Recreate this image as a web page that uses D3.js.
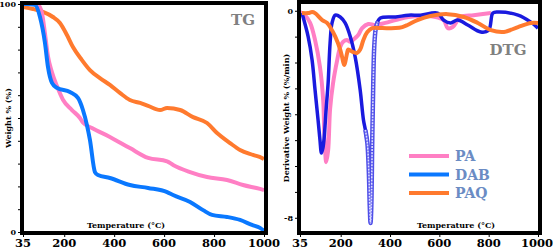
<!DOCTYPE html>
<html>
<head>
<meta charset="utf-8">
<script src="https://cdn.jsdelivr.net/npm/d3@7"></script>
<style>
  body { margin: 0; background: #fff; }
  text { font-family: "DejaVu Serif", serif; font-weight: bold; }
</style>
</head>
<body>
<div id="chart"></div>
<script>
// Chart size
const width = 553;
const height = 250;

// TG data: [temperature, weight %]
const tgPA = [[35,100],[75,100],[95,99.6],[111,96],[123,87],[135,77],[151,70],[171,64],[195,58],[231,53.5],[263,50],[275,48],[311,45.6],[383,41.7],[463,36.8],[536,32.5],[612,31],[636,29.4],[704,26.3],[772,24.1],[852,22.8],[916,20.6],[984,18.9],[1000,18.4]];
const tgDAB = [[35,100],[51,100],[83,99.6],[103,94.3],[123,82.9],[135,72.4],[151,65.4],[171,63.2],[223,61.4],[255,58.8],[275,53.5],[291,46.9],[303,40.4],[323,26.3],[335,25],[383,23.7],[463,20.6],[536,19.3],[612,17.5],[636,16.2],[704,13.2],[756,9.6],[792,7.5],[852,6.6],[904,5.3],[952,3.1],[984,1.8],[1000,0.5]];
const tgPAQ = [[35,98.7],[75,97.8],[115,96.5],[155,94.3],[183,91.7],[211,86.4],[235,81.1],[271,75.4],[303,71],[343,67.5],[383,64.5],[423,61],[463,57.9],[504,56.6],[536,55.3],[584,53.5],[612,54.4],[664,53.5],[716,50.4],[772,47.8],[812,43.4],[864,39],[904,36],[956,33.8],[992,32.5],[1000,32]];

// DTG data: [temperature, derivative weight %/min]
const dtgPA = [[35,-0.05],[55,-0.17],[76,-0.47],[96,-1.13],[116,-2.17],[129,-3.45],[133,-4.6],[137,-5.4],[141,-5.85],[149,-5.4],[157,-3.8],[169,-2.8],[186,-1.9],[198,-1.4],[210,-1.2],[226,-1.13],[239,-1.2],[259,-1.05],[271,-0.94],[287,-0.67],[312,-0.51],[340,-0.55],[381,-0.47],[422,-0.36],[475,-0.24],[560,-0.2],[617,-0.36],[634,-0.67],[654,-0.63],[686,-0.24],[739,-0.17],[809,-0.09]];
const dtgDAB = [[43,-0.09],[68,-1.0],[84,-1.9],[96,-3.06],[108,-4.2],[116,-5.0],[122,-5.5],[128,-5.3],[133,-4.9],[141,-3.8],[149,-2.8],[157,-1.25],[165,-0.47],[178,-0.17],[198,-0.24],[218,-0.47],[239,-1.0],[259,-1.8],[279,-3.06],[292,-4.2],[300,-4.6],[308,-5.1],[314,-6.2],[318,-7.6],[321,-8.2],[324,-7.6],[328,-5.0],[332,-2.8],[336,-1.4],[342,-0.7],[350,-0.42],[361,-0.28],[422,-0.24],[475,-0.17],[524,-0.17],[593,-0.09],[617,-0.36],[646,-0.47],[674,-0.36],[715,-0.55],[768,-0.82],[800,-0.75],[817,-0.09],[837,-0.05],[919,-0.17],[971,-0.44],[1000,-0.67]];
const dtgPAQ = [[43,-0.09],[68,-0.09],[84,-0.05],[96,-0.09],[125,-0.36],[145,-0.47],[157,-0.63],[178,-1.0],[198,-1.5],[206,-1.8],[214,-2.1],[226,-1.63],[230,-1.5],[251,-1.6],[267,-1.63],[279,-1.5],[292,-1.13],[308,-0.82],[328,-0.67],[369,-0.67],[422,-0.67],[450,-0.63],[471,-0.55],[511,-0.36],[564,-0.2],[634,-0.13],[699,-0.24],[756,-0.47],[809,-0.75],[862,-0.82],[919,-0.63],[971,-0.47],[1000,-0.47]];

// Axis ticks
const xTicks = [35, 200, 400, 600, 800, 1000];
const tgTicks = d3.range(0, 101, 10);
const tgLabels = [0, 100];
const dtgTicks = d3.range(-8, 1, 1);
const dtgLabels = [-8, 0];

// Legend
const seriesNames = ["PA", "DAB", "PAQ"];
const seriesColors = ["#ff7fc4", "#0a78ff", "#ff7a2e"];
const dtgBlue = "#1a1adf";

const svg = d3.select("#chart")
    .append("svg")
    .attr("width", width)
    .attr("height", height);

// Scales
const xTG = d3.scaleLinear().domain([35, 1000]).range([23, 264]);
const yTG = d3.scaleLinear().domain([0, 100]).range([232, 4]);
const xDTG = d3.scaleLinear().domain([35, 1000]).range([300, 538]);
const yDTG = d3.scaleLinear().domain([-8.55, 0.3]).range([232, 3]);

function drawPanel(x, y, yTicks, yLabels) {
    const [x0, x1] = x.range();
    const [y1, y0] = y.range();
    const clipId = "clip" + Math.round(x0);
    svg.append("clipPath").attr("id", clipId)
        .append("rect")
        .attr("x", x0).attr("y", y0 - 1)
        .attr("width", x1 - x0 + 1).attr("height", y1 - y0 + 2);

    // y ticks
    svg.append("g")
        .attr("transform", `translate(${x0 - 2},0)`)
        .call(d3.axisLeft(y).tickValues(yTicks).tickSize(3).tickFormat(""))
        .call(g => g.select(".domain").remove());
    svg.selectAll(null)
        .data(yLabels)
        .join("text")
        .attr("x", x0 - 7)
        .attr("y", d => y(d) + 3)
        .attr("text-anchor", "end")
        .style("font-size", "8px")
        .text(d => d);

    // x ticks
    svg.append("g")
        .attr("transform", `translate(0,${y1 + 2})`)
        .call(d3.axisBottom(x).tickValues(xTicks).tickSize(3).tickFormat(""))
        .call(g => g.select(".domain").remove());
    svg.selectAll(null)
        .data(xTicks)
        .join("text")
        .attr("x", d => Math.min(x(d), width - 16))
        .attr("y", 247)
        .attr("text-anchor", "middle")
        .style("font-size", "11.5px")
        .text(d => d);

    return `url(#${clipId})`;
}

function drawFrame(x, y) {
    const [x0, x1] = x.range();
    const [y1, y0] = y.range();
    svg.append("rect")
        .attr("x", x0 - 1)
        .attr("y", y0 - 1)
        .attr("width", x1 - x0 + 3)
        .attr("height", y1 - y0 + 2)
        .attr("fill", "none")
        .attr("stroke", "black")
        .attr("stroke-width", 4);
}

// Line generators
const lineTG = d3.line().x(d => xTG(d[0])).y(d => yTG(d[1])).curve(d3.curveMonotoneX);
const lineDTG = d3.line().x(d => xDTG(d[0])).y(d => yDTG(d[1])).curve(d3.curveCatmullRom.alpha(0.5));

// ---- TG panel ----
const clipTG = drawPanel(xTG, yTG, tgTicks, tgLabels);
[tgPAQ, tgPA, tgDAB].forEach((s, i) => {
    const c = [seriesColors[2], seriesColors[0], seriesColors[1]][i];
    svg.append("path")
        .datum(s)
        .attr("d", lineTG)
        .attr("fill", "none")
        .attr("stroke", c)
        .attr("stroke-width", 4)
        .attr("clip-path", clipTG);
});
drawFrame(xTG, yTG);

svg.append("text")
    .attr("x", 243).attr("y", 25)
    .attr("text-anchor", "middle")
    .style("font-size", "15px")
    .attr("fill", "#808080")
    .text("TG");
svg.append("text")
    .attr("x", 126).attr("y", 228)
    .attr("text-anchor", "middle")
    .style("font-size", "8px")
    .text("Temperature (°C)");
svg.append("text")
    .attr("transform", "translate(11,118) rotate(-90)")
    .attr("text-anchor", "middle")
    .style("font-size", "8px")
    .text("Weight % (%)");

// ---- DTG panel ----
const clipDTG = drawPanel(xDTG, yDTG, dtgTicks, dtgLabels);
svg.append("path")
    .datum(dtgPA)
    .attr("d", lineDTG)
    .attr("fill", "none")
    .attr("stroke", seriesColors[0])
    .attr("stroke-width", 4)
    .attr("clip-path", clipDTG);

// DAB: main trace plus the hollow-marker segment around the 320 °C dip
const dabMain = dtgDAB.filter(d => d[0] <= 308);
const dabDip = dtgDAB.filter(d => d[0] >= 300 && d[0] <= 350);
const dabTail = dtgDAB.filter(d => d[0] >= 342);
[dabMain, dabTail].forEach(s => {
    svg.append("path")
        .datum(s)
        .attr("d", lineDTG)
        .attr("fill", "none")
        .attr("stroke", dtgBlue)
        .attr("stroke-width", 3.5)
        .attr("clip-path", clipDTG);
});
svg.append("path")
    .datum(dabDip)
    .attr("d", lineDTG)
    .attr("fill", "none")
    .attr("stroke", "#4f4fe8")
    .attr("stroke-width", 4.5)
    .attr("clip-path", clipDTG);
svg.append("path")
    .datum(dabDip)
    .attr("d", lineDTG)
    .attr("fill", "none")
    .attr("stroke", "#dcdcff")
    .attr("stroke-width", 1.6)
    .attr("stroke-dasharray", "2,1")
    .attr("clip-path", clipDTG);

svg.append("path")
    .datum(dtgPAQ)
    .attr("d", lineDTG)
    .attr("fill", "none")
    .attr("stroke", seriesColors[2])
    .attr("stroke-width", 4)
    .attr("clip-path", clipDTG);
drawFrame(xDTG, yDTG);

svg.append("text")
    .attr("x", 508).attr("y", 55)
    .attr("text-anchor", "middle")
    .style("font-size", "15px")
    .attr("fill", "#808080")
    .text("DTG");
svg.append("text")
    .attr("x", 456).attr("y", 228)
    .attr("text-anchor", "middle")
    .style("font-size", "8px")
    .text("Temperature (°C)");
svg.append("text")
    .attr("transform", "translate(289,118) rotate(-90)")
    .attr("text-anchor", "middle")
    .style("font-size", "8px")
    .text("Derivative Weight % (%/min)");

// Legend
const legend = svg.selectAll(".legend")
    .data(seriesNames)
    .join("g")
    .attr("class", "legend")
    .attr("transform", (d, i) => `translate(409,${156 + i * 18.5})`);
legend.append("line")
    .attr("x1", 0).attr("x2", 40)
    .attr("stroke", (d, i) => seriesColors[i])
    .attr("stroke-width", 4);
legend.append("text")
    .attr("x", 46).attr("y", 5)
    .style("font-size", "14px")
    .attr("fill", "#6b8cc4")
    .text(d => d);
</script>
</body>
</html>
